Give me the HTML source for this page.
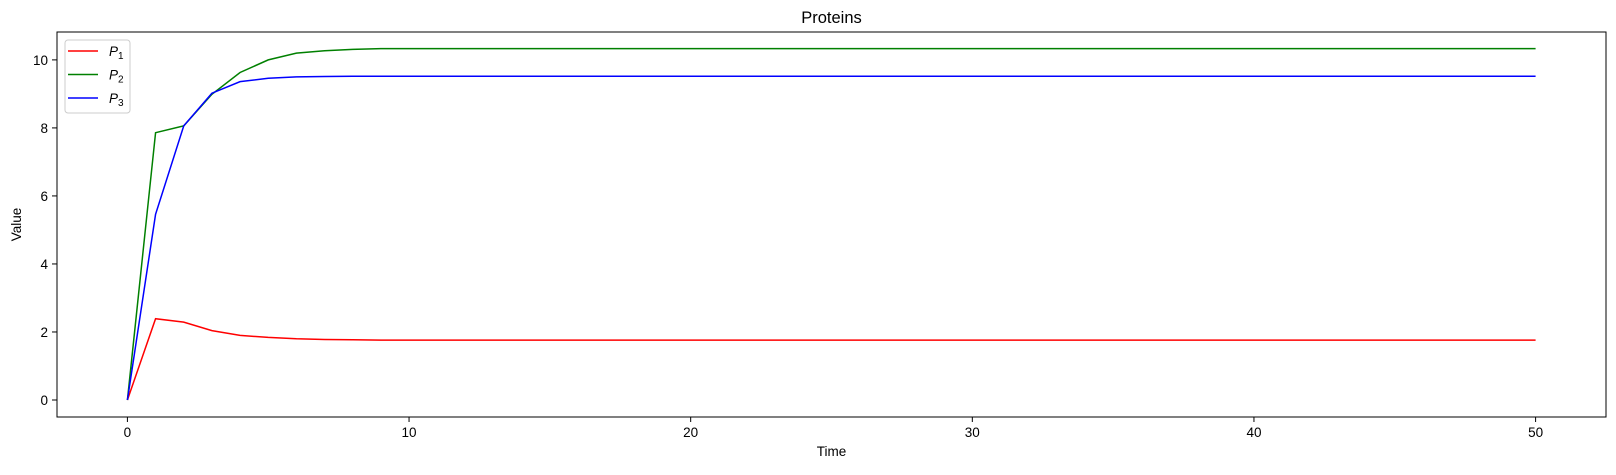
<!DOCTYPE html>
<html><head><meta charset="utf-8"><style>
body{margin:0;background:#fff;}
svg text{font-family:"Liberation Sans","DejaVu Sans",sans-serif;}
</style></head><body>
<svg id="chart" width="1616" height="470" xmlns="http://www.w3.org/2000/svg">
<rect width="1616" height="470" fill="#fff"/>
<g id="plot"></g>
</svg>
<script>
const times=[0,1,2,3,4,5,6,7,8,9,10,11,12,13,14,15,16,17,18,19,20,21,22,23,24,25,26,27,28,29,30,31,32,33,34,35,36,37,38,39,40,41,42,43,44,45,46,47,48,49,50];
const p1Head=[0,2.39,2.29,2.04,1.90,1.84,1.80,1.78,1.77];
const p2Head=[0,7.86,8.06,8.99,9.63,10.0,10.2,10.27,10.31];
const p3Head=[0,5.46,8.06,9.02,9.36,9.46,9.50,9.51,9.52];
const p1Tail=1.76, p2Tail=10.33, p3Tail=9.52;
const xTicks=[0,10,20,30,40,50];
const yTicks=[0,2,4,6,8,10];
const seriesNames=["P1","P2","P3"];
const seriesColors=["#ff0000","#008000","#0000ff"];

const L=57,R=1606,T=32,B=417;
const xMin=-2.5,xMax=52.5,yMin=-0.5,yMax=10.82;
const sx=v=>L+(v-xMin)/(xMax-xMin)*(R-L);
const sy=v=>B-(v-yMin)/(yMax-yMin)*(B-T);
const NS="http://www.w3.org/2000/svg";
const svg=document.getElementById('chart');
function mk(tag,attrs,parent){const e=document.createElementNS(NS,tag);for(const k in attrs)e.setAttribute(k,attrs[k]);(parent||svg).appendChild(e);return e;}
function full(head,tail){return times.map((t,i)=>i<head.length?head[i]:tail);}
const series=[full(p1Head,p1Tail),full(p2Head,p2Tail),full(p3Head,p3Tail)];

series.forEach((vals,si)=>{
  const d=vals.map((v,i)=>(i?'L':'M')+sx(times[i]).toFixed(2)+' '+sy(v).toFixed(2)).join(' ');
  const p=mk('path',{d:d,fill:'none',stroke:seriesColors[si],'stroke-width':1.5});
  
  
});

const frame=mk('rect',{x:L,y:T,width:R-L,height:B-T,fill:'none',stroke:'#000','stroke-width':1});



xTicks.forEach(v=>{
  const x=sx(v);
  mk('line',{x1:x,x2:x,y1:B,y2:B+5,stroke:'#000','stroke-width':1});
  const t=mk('text',{x:x,y:B+20,'font-size':13.5,'text-anchor':'middle'});t.textContent=v;
  
  
});
yTicks.forEach(v=>{
  const y=sy(v);
  mk('line',{x1:L-5,x2:L,y1:y,y2:y,stroke:'#000','stroke-width':1});
  const t=mk('text',{x:L-9,y:y+5,'font-size':13.5,'text-anchor':'end'});t.textContent=v;
  
  
});

const title=mk('text',{x:(L+R)/2,y:23,'font-size':16.5,'text-anchor':'middle'});title.textContent='Proteins';


const xl=mk('text',{x:(L+R)/2,y:456,'font-size':13.5,'text-anchor':'middle'});xl.textContent='Time';


const yl=mk('text',{x:0,y:0,'font-size':13.5,'text-anchor':'middle',transform:'translate(21,'+((T+B)/2)+') rotate(-90)'});yl.textContent='Value';



const lg=mk('g',{});


mk('rect',{x:65,y:40,width:65,height:73,rx:3,fill:'#fff',stroke:'#ccc','stroke-width':1},lg);
seriesNames.forEach((n,i)=>{
  const y=51+i*23.5;
  const ln=mk('line',{x1:68,x2:98,y1:y,y2:y,stroke:seriesColors[i],'stroke-width':1.5},lg);
  
  
  const t=mk('text',{x:109,y:y+5,'font-size':13.5},lg);
  
  
  const a=mk('tspan',{'font-style':'italic'},t);a.textContent='P';
  const b=mk('tspan',{'font-size':10,dy:3},t);b.textContent=n.slice(1);
});
</script>
</body></html>
